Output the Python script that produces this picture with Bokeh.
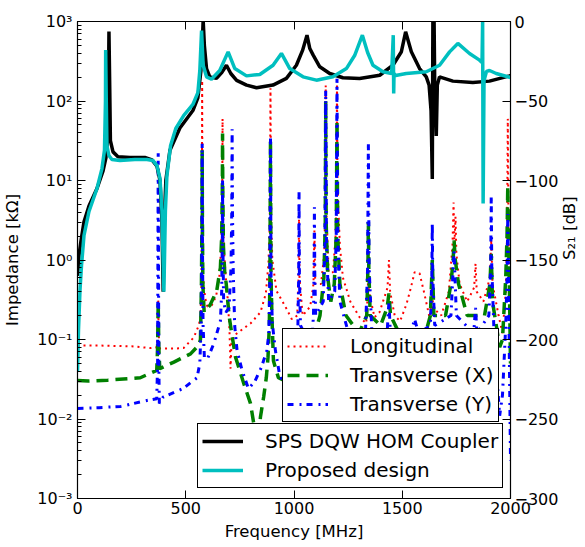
import math
from bokeh.plotting import figure
from bokeh.models import (Range1d, LinearAxis, LinearScale, Legend, LegendItem,
                          CustomJSTickFormatter, FixedTicker)
from bokeh.embed import file_html
from bokeh.resources import INLINE

# ---------------- data ----------------
# Longitudinal impedance [kOhm]
long_f = [0, 100, 250, 340, 366, 370, 372.8, 375, 378, 450, 490, 537, 560, 568, 572, 574.5, 575.8, 577, 579.5,
          590, 600, 620, 640, 655, 664, 668.5, 670, 671.5, 676, 685, 695, 702, 707, 711, 722, 737, 800, 845, 870,
          882, 888, 891.4, 894.5, 900, 919, 960, 990, 1015, 1021, 1023.3, 1025.5, 1040, 1075, 1090, 1094.3, 1098,
          1125, 1140, 1144.5, 1146.5, 1148.5, 1160, 1180, 1192, 1196.5, 1198.6, 1201, 1212, 1226, 1260, 1303,
          1334, 1341, 1343.5, 1346, 1372, 1395, 1432, 1438.5, 1444, 1465, 1490, 1520, 1540, 1557, 1580, 1600,
          1626, 1636, 1638.8, 1642, 1680, 1715, 1732, 1737, 1741, 1746, 1750, 1765, 1800, 1832, 1838.5, 1844,
          1875, 1905, 1911, 1917, 1945, 1963, 1978, 1984, 1987.5, 1991, 1996, 2000]
long_z = [0.084, 0.084, 0.082, 0.078, 0.08, 0.12, 0.31, 0.12, 0.077, 0.077, 0.078, 0.106, 0.15, 0.19, 0.45, 3, 181,
          3, 0.6, 0.33, 0.26, 0.27, 0.35, 0.6, 1.5, 6, 60, 6, 1.4, 0.6, 0.3, 0.13, 0.043, 0.09, 0.11, 0.12, 0.16,
          0.22, 0.38, 0.9, 3, 145, 3, 1.0, 0.41, 0.26, 0.18, 0.2, 0.6, 3.6, 0.6, 0.2, 0.26, 0.5, 2.35, 0.5, 0.5,
          1.2, 5, 157, 5, 0.7, 0.7, 2, 8, 180, 8, 1.5, 0.6, 0.3, 0.19, 0.16, 0.4, 1.3, 0.4, 0.19, 0.22, 0.45, 1.0,
          0.4, 0.2, 0.17, 0.28, 0.45, 0.7, 0.68, 0.4, 0.19, 0.3, 0.55, 0.25, 0.2, 0.4, 1.5, 5.3, 1.5, 3.5, 1.2,
          0.5, 0.3, 0.45, 0.9, 0.4, 0.3, 0.6, 1.8, 0.5, 0.2, 0.12, 0.4, 2, 60, 2, 0.5, 0.3]

# Transverse (X) impedance [kOhm]
tx_f = [0, 50, 140, 290, 366, 370, 372.8, 375.5, 380, 445, 522, 560, 568, 572.5, 574.8, 575.8, 577, 579, 585, 612,
        643, 660, 666, 669, 670, 671, 674, 680, 687, 700, 712, 730, 768, 799, 814, 825, 832, 840, 845, 860, 872,
        880, 886, 889, 891.4, 893.5, 898, 905, 928, 960, 1000, 1023.3, 1050, 1090, 1120, 1138, 1144.5, 1146.5,
        1148.5, 1156, 1170, 1186, 1195, 1198.6, 1202, 1212, 1240, 1300, 1336, 1341.5, 1343.5, 1345.5, 1352,
        1400, 1430, 1438.5, 1446, 1500, 1600, 1630, 1638.8, 1646, 1700, 1725, 1735, 1739.3, 1745, 1760, 1800,
        1880, 1905, 1911, 1917, 1950, 1963, 1978, 1984, 1987.5, 1991, 1996, 2000]
tx_z = [0.0305, 0.030, 0.0308, 0.033, 0.041, 0.08, 0.3, 0.08, 0.043, 0.052, 0.066, 0.085, 0.1, 0.5, 3, 24, 3, 0.5,
        0.22, 0.27, 0.41, 0.8, 2, 8, 39, 8, 1.5, 0.7, 0.5, 0.2, 0.12, 0.06, 0.028, 0.0157, 0.0088, 0.0055, 0.005,
        0.007, 0.0106, 0.019, 0.033, 0.06, 0.15, 0.7, 32, 0.7, 0.2, 0.054, 0.033, 0.03, 0.04, 0.1, 0.06, 0.1, 0.2,
        0.6, 3, 100, 3, 0.6, 0.3, 0.5, 2, 57, 2, 0.5, 0.2, 0.12, 0.2, 0.8, 3, 0.8, 0.2, 0.15, 0.25, 0.38, 0.2,
        0.1, 0.1, 0.2, 1.0, 0.2, 0.2, 0.5, 1.0, 1.76, 1.0, 0.5, 0.2, 0.2, 0.5, 1.2, 0.3, 0.08, 0.1, 0.6, 2, 8.6,
        2, 0.3, 0.05]

# Transverse (Y) impedance [kOhm]
ty_f = [0, 100, 200, 320, 366, 370, 372.8, 375.5, 378, 395, 488, 552, 565, 571, 574.5, 575.8, 577, 580, 586, 599,
        629, 660, 666, 669, 670, 671, 675, 685, 700, 709, 712.5, 714.2, 716, 719, 726, 737, 760, 790, 820, 850,
        875, 884, 888.5, 891.4, 894, 900, 914, 936, 960, 1000, 1018, 1021.5, 1023.3, 1025, 1030, 1080, 1090,
        1092.5, 1094.3, 1096, 1100, 1135, 1143, 1146.5, 1150, 1160, 1188, 1195, 1198.6, 1202, 1212, 1260, 1330,
        1340, 1343.5, 1347, 1360, 1430, 1438.5, 1445, 1540, 1557, 1575, 1630, 1636.5, 1638.8, 1641, 1650, 1725,
        1739.3, 1750, 1830, 1838.5, 1845, 1900, 1908.5, 1911, 1913.5, 1925, 1950, 1963, 1978, 1984, 1987.5, 1991,
        1995, 2000]
ty_z = [0.0136, 0.0139, 0.0144, 0.0171, 0.018, 0.05, 22, 0.05, 0.0157, 0.0188, 0.0242, 0.033, 0.05, 0.15, 2, 29,
        2, 0.15, 0.06, 0.056, 0.088, 0.17, 0.4, 2, 10, 2, 0.3, 0.22, 0.25, 0.8, 4, 44, 4, 0.8, 0.15, 0.073, 0.041,
        0.024, 0.03, 0.045, 0.073, 0.12, 0.6, 35, 0.6, 0.16, 0.073, 0.033, 0.03, 0.05, 0.15, 0.6, 7.1, 0.6, 0.15,
        0.08, 0.2, 0.7, 4.6, 0.7, 0.2, 0.3, 1.5, 135, 1.5, 0.3, 0.4, 2, 190, 2, 0.3, 0.1, 0.12, 0.8, 30, 0.8,
        0.12, 0.12, 0.3, 0.12, 0.12, 0.18, 0.12, 0.15, 0.6, 2.9, 0.6, 0.15, 0.2, 1.3, 0.2, 0.12, 0.25, 0.12, 0.2,
        0.8, 6.5, 0.8, 0.1, 0.011, 0.02, 0.15, 0.6, 3.8, 0.6, 0.05, 0.003]

# S21 [dB] of the SPS DQW HOM coupler
sps_f = [0, 7, 16, 30, 53, 90, 118, 131, 138, 143, 145.3, 149, 152, 164, 187, 242, 311, 344, 367, 381, 390, 395.8,
         401, 408, 427, 473, 533, 556, 570, 577, 580.4, 586, 596, 611, 642, 667, 688, 708, 735, 781, 827, 903, 965,
         1011, 1040, 1060, 1073, 1088, 1119, 1165, 1226, 1303, 1396, 1457, 1496, 1515.6, 1542, 1580, 1611, 1624,
         1633, 1638.8, 1641.5, 1644, 1647, 1650, 1657.2, 1662, 1672, 1734, 1826, 1903, 1995, 2000]
sps_db = [-160, -147, -138, -126, -116, -105, -94, -86, -75, -43, -6.3, -43, -75, -82, -85, -85.5, -85.5, -87, -91,
          -100, -125, -170, -125, -100, -81, -67, -56, -48, -31, -12, 1, -15, -29.6, -34.8, -35.8, -32, -27.5,
          -32.7, -37, -40, -41.7, -40, -35.8, -27.5, -18, -8.6, -17, -21, -28.5, -32.7, -35.4, -35.8, -33.8, -27.5,
          -19, -6.5, -19, -29.6, -34.8, -40, -56, -99, 1, 1, 1, -40, -72, -40, -34.8, -37.5, -38.4, -37.5, -34.2,
          -34]

# S21 [dB] of the proposed design
new_f = [0, 4.6, 11.5, 18.5, 30, 53, 90, 113, 124.6, 129.2, 130.1, 132.9, 136, 145, 159, 196, 265, 321, 348, 367,
         381, 390, 399, 406, 413, 430, 454, 491, 533, 556, 565, 573, 580.4, 596, 619, 657, 695.7, 726.6, 780.6, 842,
         903.3, 942, 980.4, 1041.8, 1103.6, 1180, 1242, 1280, 1315.8, 1340, 1364.7, 1410.8, 1451, 1458.5, 1460.5,
         1462, 1469.4, 1518.8, 1611, 1672.4, 1718.6, 1756.9, 1810.8, 1857, 1868.5, 1871.3, 1873.6, 1877.7, 1889,
         1903, 1934, 2000]
new_db = [-220, -194, -169, -153.5, -134.6, -119.5, -105, -92.5, -81, -50, -18, -50, -78, -84.3, -86.8, -87.4,
          -86.8, -86.8, -87.4, -90.6, -98.7, -119, -170, -119, -97, -78, -67.3, -59, -52.2, -44.7, -30.8, -5.7,
          -27.5, -34.8, -36.3, -30.8, -19.1, -29.6, -34.2, -33.3, -27.5, -20.1, -29.6, -34.8, -36.9, -34.8, -29.6,
          -21.4, -8.6, -19.5, -27.5, -31.6, -32.7, -8.6, -45.3, -32.7, -34, -32.7, -31.6, -27.5, -19.1, -13.8,
          -20.1, -24.3, -25.8, 1, -114.5, -37.1, -31.4, -30.8, -32.7, -35.2]

x_ticks = [0, 500, 1000, 1500, 2000]
imp_ticks = [1e-3, 1e-2, 1e-1, 1e0, 1e1, 1e2, 1e3]
s21_ticks = [-300, -250, -200, -150, -100, -50, 0]

# ---------------- figure ----------------
FONT = "DejaVu Sans"
p = figure(frame_width=433, frame_height=477, x_range=Range1d(0, 2000), y_range=Range1d(1e-3, 1e3),
           y_axis_type="log", output_backend="svg", toolbar_location=None,
           min_border_left=0, min_border_right=0, min_border_top=21, min_border_bottom=0)
p.extra_y_ranges = {"s21": Range1d(-300, 0)}
p.extra_y_scales = {"s21": LinearScale()}
p.xgrid.visible = False
p.ygrid.visible = False
p.outline_line_color = "black"
p.outline_line_width = 1.2
p.outline_line_alpha = 1
p.background_fill_color = "white"
p.border_fill_color = "white"

r_long = p.line(long_f, long_z, line_color="red", line_width=2, line_dash="2 4")
r_tx = p.line(tx_f, tx_z, line_color="green", line_width=3.5, line_dash="12 7")
r_ty = p.line(ty_f, ty_z, line_color="blue", line_width=3, line_dash="6 6 2 5")
r_sps = p.line(sps_f, sps_db, line_color="black", line_width=3.5, y_range_name="s21")
r_new = p.line(new_f, new_db, line_color="#00bfbf", line_width=3.5, y_range_name="s21")


def style_axis(ax):
    ax.major_label_text_font = FONT
    ax.major_label_text_font_size = "16px"
    ax.major_label_text_color = "black"
    ax.axis_label_text_font = FONT
    ax.axis_label_text_font_size = "16.5px"
    ax.axis_label_text_font_style = "normal"
    ax.axis_label_text_color = "black"
    ax.axis_line_color = "black"
    ax.major_tick_line_color = "black"
    ax.minor_tick_line_color = "black"
    ax.major_tick_in = 8
    ax.major_tick_out = 0
    ax.minor_tick_in = 4
    ax.minor_tick_out = 0


xa = p.xaxis[0]
style_axis(xa)
xa.ticker = FixedTicker(ticks=x_ticks)
xa.minor_tick_line_color = None
xa.axis_label = "Frequency [MHz]"
xa.major_label_standoff = 3
xa.axis_label_standoff = 5

minor = [m * 10.0 ** e for e in range(-3, 3) for m in range(2, 10)]
ya = p.yaxis[0]
style_axis(ya)
ya.ticker = FixedTicker(ticks=imp_ticks, minor_ticks=minor)
ya.formatter = CustomJSTickFormatter(code="""
const sup = {'-':'\u207b','0':'\u2070','1':'\u00b9','2':'\u00b2','3':'\u00b3','4':'\u2074',
             '5':'\u2075','6':'\u2076','7':'\u2077','8':'\u2078','9':'\u2079'};
const e = Math.round(Math.log10(tick));
return '10' + String(e).split('').map(c => sup[c]).join('');
""")
ya.axis_label = "Impedance [k\u03a9]"
ya.major_label_standoff = 5
ya.axis_label_standoff = 12

top = LinearAxis(ticker=FixedTicker(ticks=x_ticks))
style_axis(top)
top.formatter = CustomJSTickFormatter(code="return '';")
top.major_label_text_font_size = "1px"
top.major_label_standoff = 0
top.minor_tick_line_color = None
p.add_layout(top, "above")

ra = LinearAxis(y_range_name="s21", ticker=FixedTicker(ticks=s21_ticks))
style_axis(ra)
ra.minor_tick_line_color = None
ra.formatter = CustomJSTickFormatter(code="return tick < 0 ? '\u2212' + Math.abs(tick) : String(tick);")
ra.axis_label = "S\u2082\u2081 [dB]"
ra.axis_label_orientation = math.pi / 2
ra.major_label_standoff = 4
ra.axis_label_standoff = 8
p.add_layout(ra, "right")


def make_legend(items, loc):
    return Legend(items=items, location=loc, label_text_font=FONT, label_text_font_size="20px",
                  label_text_color="black", glyph_width=41, glyph_height=26, label_height=26,
                  label_standoff=22, padding=4, spacing=3, margin=0,
                  border_line_color="black", border_line_width=1, border_line_alpha=1,
                  background_fill_color="white", background_fill_alpha=1)


leg1 = make_legend([LegendItem(label="Longitudinal", renderers=[r_long]),
                    LegendItem(label="Transverse (X)", renderers=[r_tx]),
                    LegendItem(label="Transverse (Y)", renderers=[r_ty])], (205, 76))
leg2 = make_legend([LegendItem(label="SPS DQW HOM Coupler", renderers=[r_sps]),
                    LegendItem(label="Proposed design", renderers=[r_new])], (120, 10))
p.add_layout(leg1, "center")
p.add_layout(leg2, "center")

open("out.html", "w").write(file_html(p, INLINE))
